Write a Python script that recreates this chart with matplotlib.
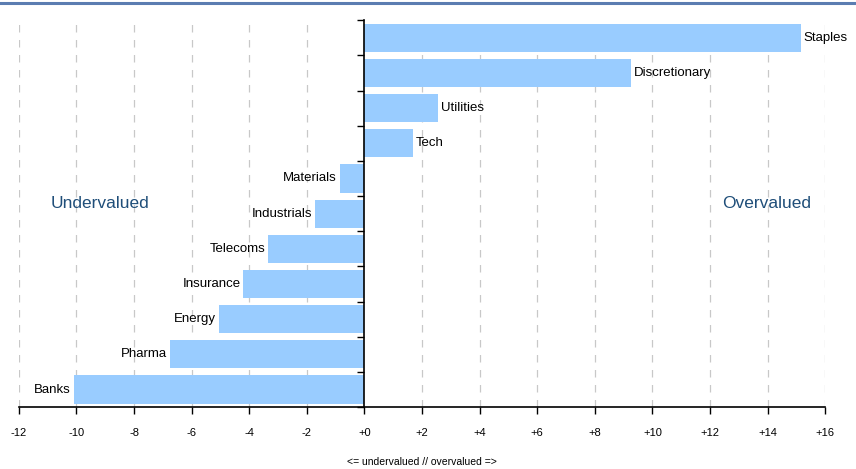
import matplotlib.pyplot as plt
import numpy as np
from matplotlib.lines import Line2D

sectors = ['Banks', 'Pharma', 'Energy', 'Insurance', 'Telecoms', 'Industrials',
           'Materials', 'Tech', 'Utilities', 'Discretionary', 'Staples']
values = [-10.1, -6.75, -5.05, -4.2, -3.35, -1.7, -0.85, 1.7, 2.55, 9.25, 15.15]
xticks = list(range(-12, 17, 2))
xtick_labels = [f'{t:+d}' if t != 0 else '+0' for t in xticks]

plt.rcParams['font.family'] = ['Liberation Sans', 'DejaVu Sans']

fig = plt.figure(figsize=(8.56, 4.69), dpi=100)
ax = fig.add_axes([0.022, 0.132, 0.942, 0.825])

y = np.arange(len(sectors))
ax.barh(y, values, height=0.8, color='#99CCFF', zorder=2)

for yi, v, name in zip(y, values, sectors):
    if v >= 0:
        ax.text(v + 0.1, yi, name, ha='left', va='center', fontsize=9.5, zorder=3)
    else:
        ax.text(v - 0.1, yi, name, ha='right', va='center', fontsize=9.5, zorder=3)

ax.set_xlim(-12, 16)
ax.set_ylim(-0.5, len(sectors) - 0.5)

# dashed vertical gridlines (skip zero, the axis line is there)
for t in xticks:
    if t != 0:
        ax.axvline(t, color='#c8c8c8', linestyle=(0, (6, 6)), linewidth=0.9, zorder=1)

ax.spines['top'].set_visible(False)
ax.spines['right'].set_visible(False)
ax.spines['left'].set_position(('data', 0))
ax.spines['left'].set_color('black')
ax.spines['left'].set_linewidth(1.2)
ax.spines['left'].set_zorder(4)
ax.spines['bottom'].set_linewidth(1.2)

ax.set_yticks(np.arange(-0.5, len(sectors), 1))
ax.set_yticklabels([])
ax.tick_params(axis='y', direction='out', length=5, width=1)

ax.set_xticks(xticks)
ax.set_xticklabels(xtick_labels, fontsize=8)
ax.tick_params(axis='x', direction='out', length=5, width=1, pad=10)

ax.set_xlabel('<= undervalued // overvalued =>', fontsize=7.5, labelpad=14)

ax.text(-10.9, 5.3, 'Undervalued', color='#1F4E79', fontsize=12.5, ha='left', va='center')
ax.text(15.5, 5.3, 'Overvalued', color='#1F4E79', fontsize=12.5, ha='right', va='center')

fig.add_artist(Line2D([0, 1], [0.994, 0.994], transform=fig.transFigure,
                      color='#5B7DB1', linewidth=2.2))

fig.savefig('out.png', dpi=100)
